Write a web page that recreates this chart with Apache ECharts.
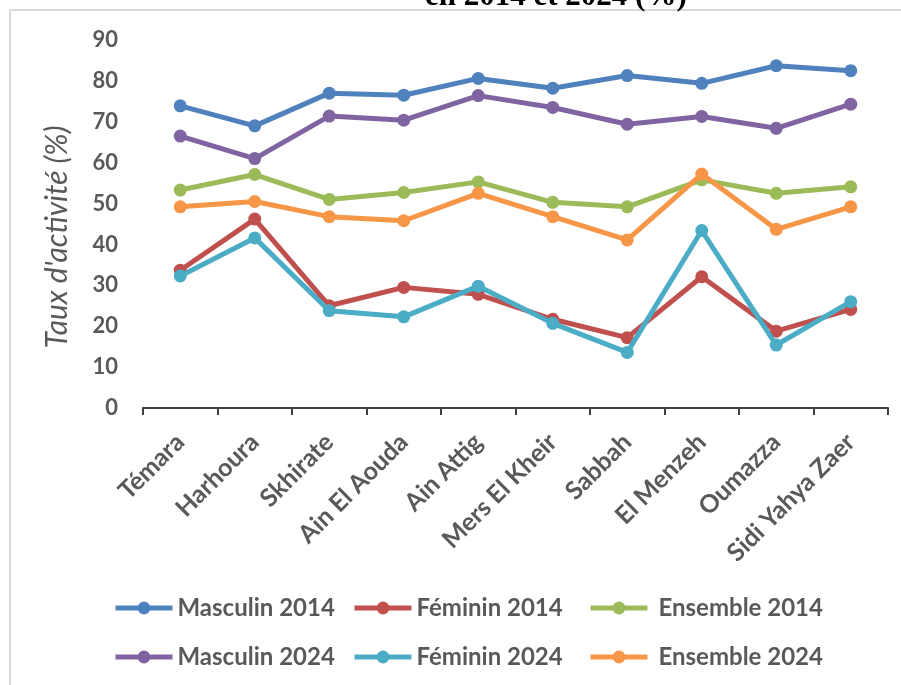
<!DOCTYPE html>
<html>
<head>
<meta charset="utf-8">
<script src="https://cdn.jsdelivr.net/npm/echarts@6/dist/echarts.min.js"></script>
<style>
html,body{margin:0;padding:0;background:#fff;}
#chart{width:901px;height:685px;}
</style>
</head>
<body>
<div id="chart"></div>
<script>
const categories = ['Témara','Harhoura','Skhirate','Ain El Aouda','Ain Attig','Mers El Kheir','Sabbah','El Menzeh','Oumazza','Sidi Yahya Zaer'];
const masculin2014 = [73.9, 69.0, 77.0, 76.5, 80.6, 78.2, 81.3, 79.4, 83.7, 82.5];
const feminin2014  = [33.7, 46.2, 25.0, 29.5, 27.8, 21.7, 17.2, 32.1, 18.8, 24.1];
const ensemble2014 = [53.3, 57.1, 51.0, 52.7, 55.3, 50.3, 49.2, 55.8, 52.5, 54.1];
const masculin2024 = [66.5, 61.0, 71.4, 70.4, 76.4, 73.5, 69.4, 71.3, 68.4, 74.3];
const feminin2024  = [32.3, 41.6, 23.8, 22.3, 29.8, 20.7, 13.6, 43.4, 15.4, 26.0];
const ensemble2024 = [49.2, 50.5, 46.8, 45.8, 52.5, 46.8, 41.1, 57.2, 43.7, 49.2];
const yTicks = [0, 10, 20, 30, 40, 50, 60, 70, 80, 90];
const seriesNames = ['Masculin 2014','Féminin 2014','Ensemble 2014','Masculin 2024','Féminin 2024','Ensemble 2024'];
const seriesData = [masculin2014, feminin2014, ensemble2014, masculin2024, feminin2024, ensemble2024];
const colors = ['#4F81BD','#C0504D','#9BBB59','#8064A2','#4BACC6','#F79646'];

const FONT = 'Lato';
const GRAY = '#595959';

const chart = echarts.init(document.getElementById('chart'), null, {renderer: 'canvas'});

function legendCol(left, names, pad) {
  return {
    orient: 'vertical',
    left: left,
    top: 595,
    padding: 0,
    itemWidth: 57,
    itemHeight: 16,
    itemGap: 23,
    data: names,
    lineStyle: {width: 5},
    textStyle: {fontFamily: FONT, fontWeight: 'bold', fontSize: 24, color: GRAY, lineHeight: 26, padding: [0,0,0,pad]},
    selectedMode: false
  };
}

chart.setOption({
  animation: false,
  backgroundColor: '#ffffff',
  color: colors,
  title: {
    text: 'en 2014 et 2024 (%)',
    left: 420,
    top: -24,
    textStyle: {fontFamily: 'Liberation Serif', fontWeight: 'bold', fontSize: 31, color: '#000'}
  },
  graphic: [
    {type: 'line', shape: {x1: 10, y1: 10, x2: 901, y2: 10}, style: {stroke: '#d9d9d9', lineWidth: 2}},
    {type: 'line', shape: {x1: 10, y1: 10, x2: 10, y2: 685}, style: {stroke: '#d9d9d9', lineWidth: 2}}
  ],
  grid: {left: 143, right: 13, top: 40, bottom: 277, containLabel: false},
  legend: [
    legendCol(113, ['Masculin 2014','Masculin 2024'], 0),
    legendCol(352, ['Féminin 2014','Féminin 2024'], 0),
    legendCol(588, ['Ensemble 2014','Ensemble 2024'], 6)
  ],
  xAxis: {
    type: 'category',
    data: categories,
    boundaryGap: true,
    axisLine: {lineStyle: {color: '#404040', width: 2}},
    axisTick: {show: true, length: 7, lineStyle: {color: '#404040', width: 2}},
    axisLabel: {rotate: 45, margin: 30, interval: 0, fontFamily: FONT, fontWeight: 'bold', fontSize: 25, color: GRAY},
    splitLine: {show: false}
  },
  yAxis: {
    type: 'value',
    min: yTicks[0],
    max: yTicks[yTicks.length - 1],
    interval: 10,
    name: "Taux d'activité (%)",
    nameLocation: 'middle',
    nameRotate: 90,
    nameGap: 71,
    nameTextStyle: {fontFamily: FONT, fontStyle: 'italic', fontSize: 30, color: GRAY, padding: [0,0,0,-26]},
    axisLine: {show: false},
    axisTick: {show: false},
    splitLine: {show: false},
    axisLabel: {margin: 25, fontFamily: FONT, fontWeight: 'bold', fontSize: 22, color: GRAY}
  },
  series: seriesNames.map((n, i) => ({
    name: n,
    type: 'line',
    data: seriesData[i],
    symbol: 'circle',
    symbolSize: 13,
    lineStyle: {width: 5, color: colors[i]},
    itemStyle: {color: colors[i]},
    z: 2 + i
  }))
});
</script>
</body>
</html>
